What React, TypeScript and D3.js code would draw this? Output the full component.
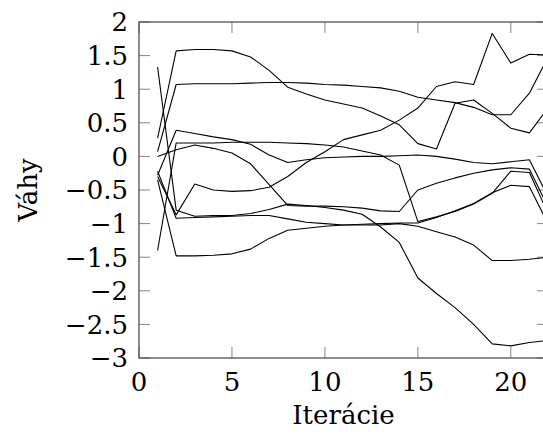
import React from "react";
import * as d3 from "d3";

const iterations = [1, 2, 3, 4, 5, 6, 7, 8, 9, 10, 11, 12, 13, 14, 15, 16, 17, 18, 19, 20, 21, 22];

const w1 = [0.27, 1.57, 1.59, 1.59, 1.57, 1.48, 1.28, 1.03, 0.93, 0.84, 0.78, 0.72, 0.6, 0.47, 0.19, 0.11, 0.79, 0.84, 0.64, 0.42, 0.35, 0.72];
const w2 = [0.07, 1.07, 1.08, 1.08, 1.08, 1.09, 1.1, 1.1, 1.09, 1.07, 1.06, 1.04, 1.02, 0.97, 0.88, 0.84, 0.8, 0.73, 0.62, 0.62, 0.94, 1.48];
const w3 = [-0.3, -0.87, -0.41, -0.5, -0.52, -0.51, -0.46, -0.3, -0.09, 0.07, 0.25, 0.32, 0.39, 0.54, 0.72, 1.04, 1.11, 1.07, 1.83, 1.39, 1.52, 1.51];
const w4 = [-0.28, 0.39, 0.34, 0.29, 0.25, 0.18, 0.02, -0.09, -0.05, -0.02, -0.01, 0.0, 0.0, 0.01, 0.02, 0.0, -0.04, -0.09, -0.11, -0.08, -0.05, -0.6];
const w5 = [-1.4, 0.2, 0.2, 0.2, 0.21, 0.21, 0.21, 0.2, 0.19, 0.17, 0.14, 0.08, 0.02, -0.13, -0.97, -0.9, -0.82, -0.71, -0.55, -0.22, -0.24, -0.85];
const w6 = [0.0, 0.1, 0.17, 0.12, 0.05, -0.11, -0.42, -0.73, -0.74, -0.74, -0.75, -0.77, -0.81, -0.82, -0.5, -0.4, -0.32, -0.25, -0.2, -0.17, -0.19, -0.75];
const w7 = [1.33, -0.8, -0.89, -0.88, -0.88, -0.85, -0.79, -0.71, -0.73, -0.76, -0.8, -0.86, -1.05, -1.28, -1.81, -2.04, -2.25, -2.5, -2.79, -2.82, -2.77, -2.74];
const w8 = [-0.22, -0.92, -0.91, -0.9, -0.89, -0.88, -0.88, -0.93, -0.98, -1.0, -1.02, -1.02, -1.02, -1.0, -1.04, -1.12, -1.2, -1.32, -1.55, -1.55, -1.53, -1.5];
const w9 = [-0.35, -1.48, -1.48, -1.47, -1.45, -1.38, -1.22, -1.1, -1.07, -1.04, -1.02, -1.01, -1.0, -0.99, -0.99, -0.91, -0.81, -0.7, -0.54, -0.43, -0.45, -1.0];

const seriesList = [w1, w2, w3, w4, w5, w6, w7, w8, w9];

const xTicks = [0, 5, 10, 15, 20];
const yTicks = [-3, -2.5, -2, -1.5, -1, -0.5, 0, 0.5, 1, 1.5, 2];

const xLabel = "Iterácie";
const yLabel = "Váhy";

const W = 543;
const H = 437;
const FONT = "'DejaVu Serif', serif";

function fmt(v: number): string {
  const s = String(Math.abs(v));
  return v < 0 ? "\u2212" + s : s;
}

export default function App() {
  const x = d3.scaleLinear().domain([0, 22]).range([139, 548]);
  const y = d3.scaleLinear().domain([-3, 2]).range([358, 22]);
  const line = d3
    .line<number>()
    .x((_, i) => x(iterations[i]))
    .y((d) => y(d));

  const [x0, x1] = x.range();
  const [y0, y1] = y.range();
  const tickLen = 11;

  return (
    <div style={{ position: "fixed", left: 0, top: 0 }}>
      <svg width={W} height={H} style={{ display: "block", background: "#fff" }}>
        {/* ticks */}
        <g stroke="#777" strokeWidth={0.9}>
          {xTicks.map((t) => (
            <g key={"xt" + t}>
              <line x1={x(t)} x2={x(t)} y1={y0} y2={y0 - tickLen} />
              <line x1={x(t)} x2={x(t)} y1={y1} y2={y1 + tickLen} />
            </g>
          ))}
          {yTicks.map((t) => (
            <g key={"yt" + t}>
              <line x1={x0} x2={x0 + tickLen} y1={y(t)} y2={y(t)} />
              <line x1={x1} x2={x1 - tickLen} y1={y(t)} y2={y(t)} />
            </g>
          ))}
        </g>
        {/* data */}
        <g fill="none" stroke="#000" strokeWidth={1.1} strokeLinejoin="round">
          {seriesList.map((s, i) => (
            <path key={i} d={line(s) || ""} />
          ))}
        </g>
        {/* frame */}
        <rect x={x0} y={y1} width={x1 - x0} height={y0 - y1} fill="none" stroke="#444" strokeWidth={1.2} />
        {/* tick labels */}
        <g fontFamily={FONT} fontSize={26} fill="#000">
          {xTicks.map((t) => (
            <text key={"xl" + t} x={x(t)} y={391} textAnchor="middle">
              {fmt(t)}
            </text>
          ))}
          {yTicks.map((t) => (
            <text key={"yl" + t} x={128} y={y(t)} dy="0.36em" textAnchor="end">
              {fmt(t)}
            </text>
          ))}
          <text x={(x0 + x1) / 2} y={424} textAnchor="middle">
            {xLabel}
          </text>
          <text transform={`translate(37,${(y0 + y1) / 2}) rotate(-90)`} textAnchor="middle">
            {yLabel}
          </text>
        </g>
      </svg>
    </div>
  );
}
